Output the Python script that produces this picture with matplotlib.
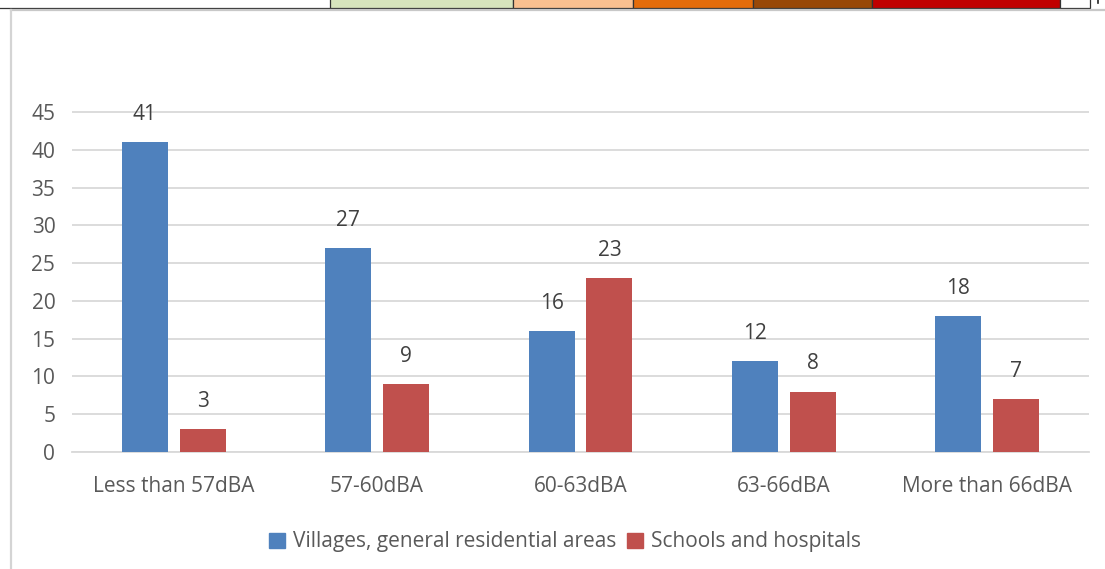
import matplotlib
matplotlib.use("Agg")
import matplotlib.pyplot as plt
from matplotlib.patches import Rectangle
import numpy as np

categories = ["Less than 57dBA", "57-60dBA", "60-63dBA", "63-66dBA", "More than 66dBA"]
residential = [41, 27, 16, 12, 18]
schools = [3, 9, 23, 8, 7]
series_names = ["Villages, general residential areas", "Schools and hospitals"]
y_ticks = [0, 5, 10, 15, 20, 25, 30, 35, 40, 45]

# strip of colour swatches along the top edge
swatch_colors = ["#D7E4BD", "#FAC090", "#E46C0A", "#984807", "#C00000"]
swatch_edges = [330, 513, 633, 753, 872, 1060]

BLUE = "#4F81BD"
RED = "#C0504D"
TEXT = "#595959"
GRID = "#D9D9D9"
FS = 15

W, H = 1105, 569
plt.rcParams["font.family"] = ["Open Sans", "DejaVu Sans"]
fig = plt.figure(figsize=(W / 100, H / 100), dpi=100)

# decoration layer in pixel coordinates
deco = fig.add_axes([0, 0, 1, 1], zorder=0)
deco.set_xlim(0, W)
deco.set_ylim(H, 0)
deco.axis("off")
for c, x0, x1 in zip(swatch_colors, swatch_edges[:-1], swatch_edges[1:]):
    deco.add_patch(Rectangle((x0, -2), x1 - x0, 10, facecolor=c,
                             edgecolor="#333333", linewidth=0.9))
deco.add_patch(Rectangle((1060, -2), 30, 10, facecolor="white",
                         edgecolor="#333333", linewidth=0.9))
deco.plot([0, 330], [8.3, 8.3], color="#333333", lw=0.9)
deco.plot([1097.5, 1097.5], [0, 3], color="#222222", lw=1.2)
# frame of the chart area
deco.plot([11, 1105], [9.8, 9.8], color="#C8C8C8", lw=1.6)
deco.plot([11, 11], [9.8, H], color="#D4D4D4", lw=1.6)

# plot area: x 72..1089 px, y from 112 (45) to 452 (0)
left, right = 72 / W, 1089 / W
y45, y0 = 112, 452
ax_top_px = 100
ax = fig.add_axes([left, 1 - y0 / H, right - left, (y0 - ax_top_px) / H], zorder=1)
ax.patch.set_alpha(0)
per_px = 45 / (y0 - y45)
ax.set_ylim(0, (y0 - ax_top_px) * per_px)
ax.set_xlim(-0.5, len(categories) - 0.5)

x = np.arange(len(categories))
bw = 0.226
off = 0.142
b1 = ax.bar(x - off, residential, width=bw, color=BLUE, label=series_names[0], zorder=3)
b2 = ax.bar(x + off, schools, width=bw, color=RED, label=series_names[1], zorder=3)

for bars, vals in ((b1, residential), (b2, schools)):
    for rect, v in zip(bars, vals):
        ax.annotate(str(v), (rect.get_x() + rect.get_width() / 2, v),
                    xytext=(0, 20), textcoords="offset points",
                    ha="center", va="center", fontsize=FS, color="#404040")

ax.set_yticks(y_ticks)
ax.set_yticklabels([str(t) for t in y_ticks], fontsize=FS, color=TEXT)
ax.set_xticks(x)
ax.set_xticklabels(categories, fontsize=FS, color=TEXT)
ax.tick_params(axis="y", length=0, pad=12)
ax.tick_params(axis="x", length=0, pad=17)
ax.grid(axis="y", color=GRID, lw=1.3, zorder=0)
for s in ("top", "right", "left"):
    ax.spines[s].set_visible(False)
ax.spines["bottom"].set_color(GRID)
ax.spines["bottom"].set_linewidth(1.3)

handles = [Rectangle((0, 0), 1, 1, color=BLUE), Rectangle((0, 0), 1, 1, color=RED)]
leg = fig.legend(handles, series_names, loc="center", bbox_to_anchor=(565 / W, 1 - 542 / H),
                 ncol=2, frameon=False, fontsize=FS, handlelength=0.75, handleheight=0.75,
                 handletextpad=0.4, columnspacing=0.5)
for t in leg.get_texts():
    t.set_color(TEXT)

fig.savefig("out.png", dpi=100)
